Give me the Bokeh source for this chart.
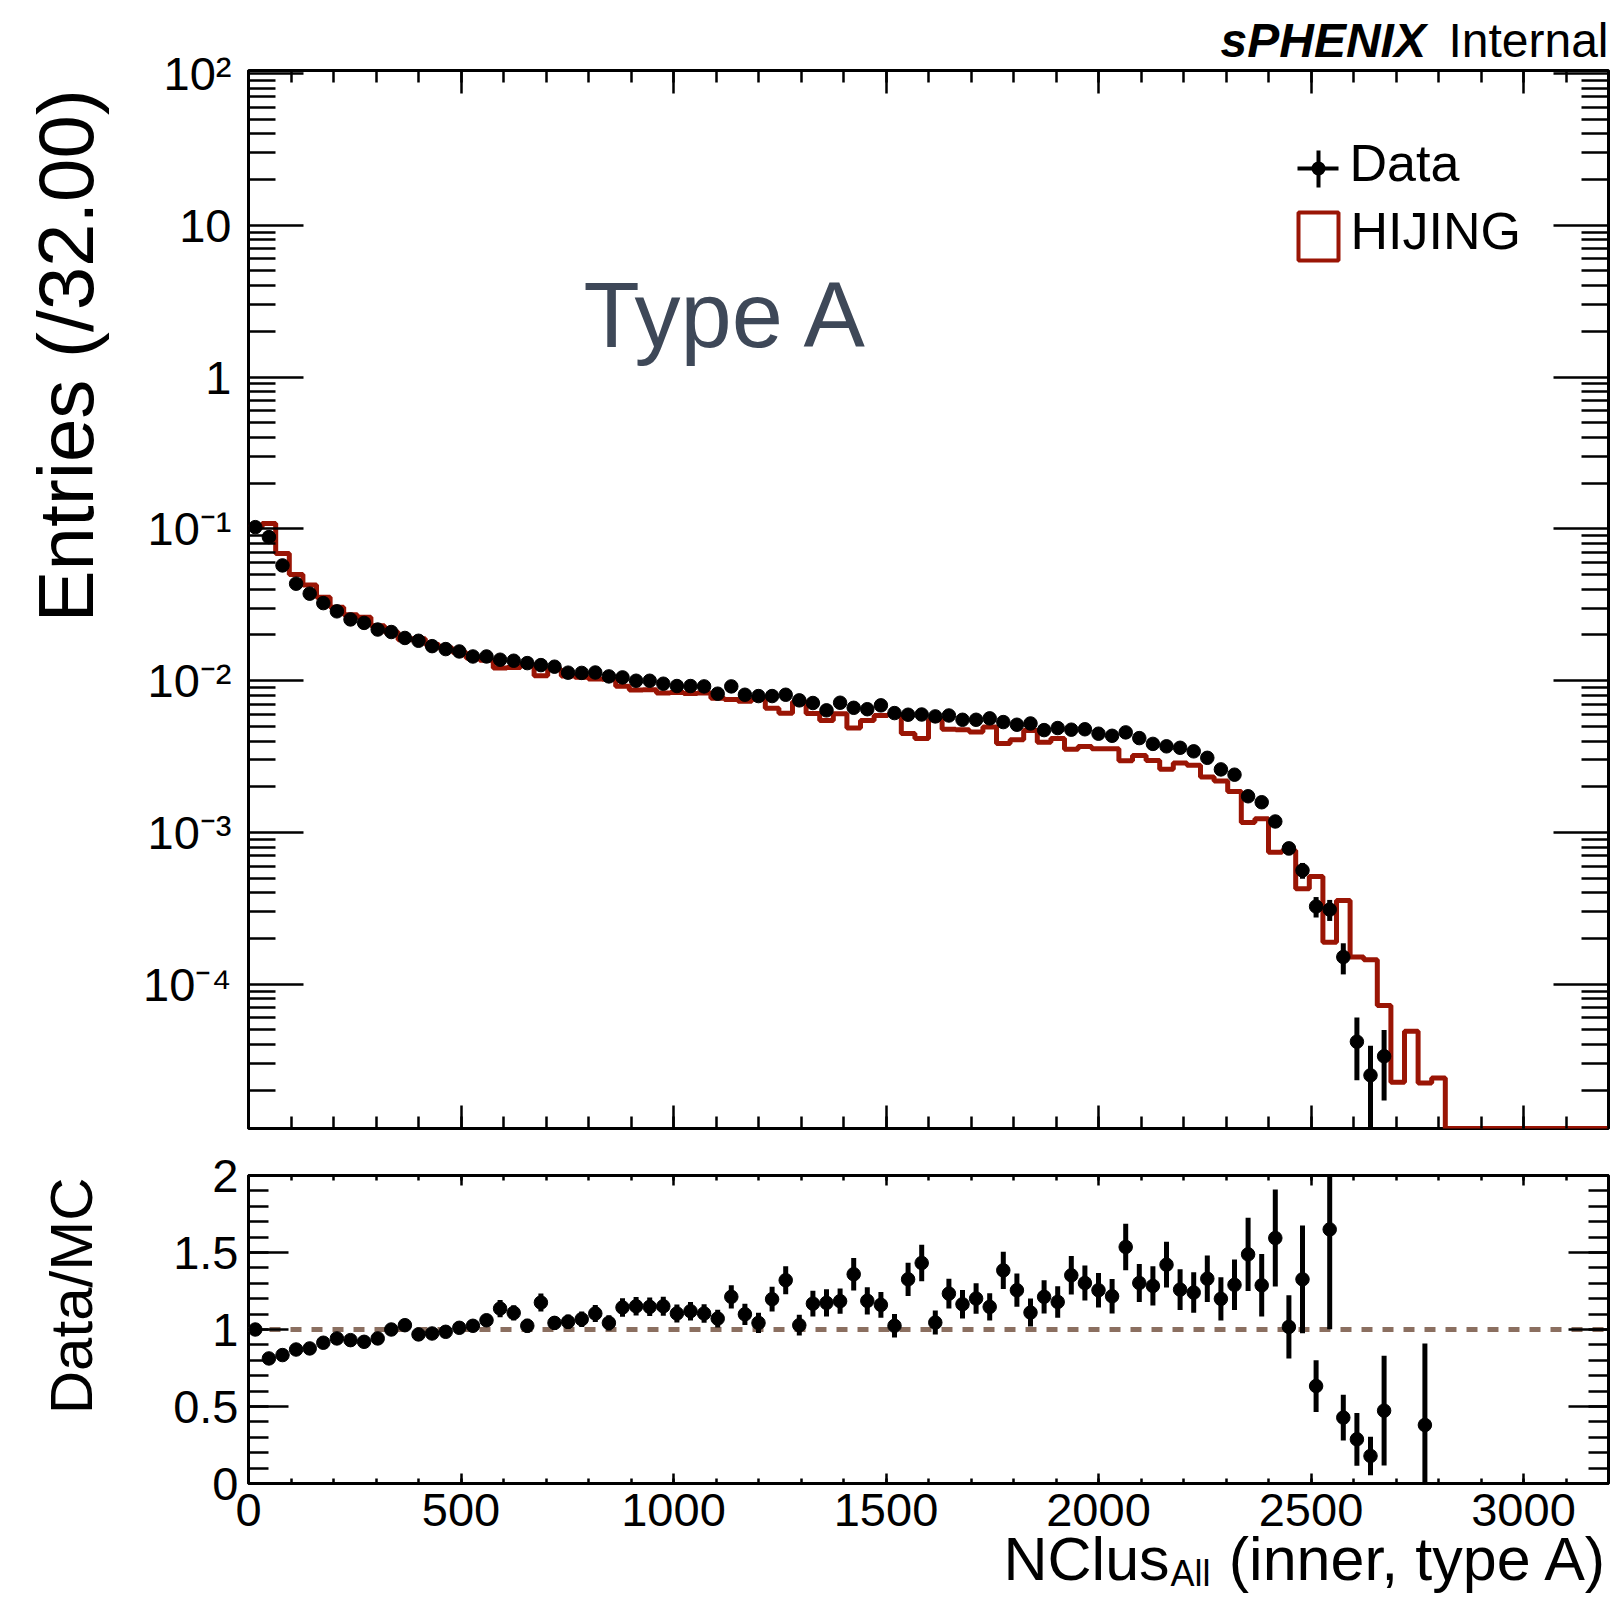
import numpy as np
from bokeh.plotting import figure
from bokeh.models import (FixedTicker, LogAxis, LinearAxis, Range1d, Label, GridBox,
                          BoxAnnotation, Span, CustomJSTickFormatter)
from bokeh.embed import file_html
from bokeh.resources import INLINE

# ---------------- binning ----------------
x_start, x_end, n_bins = 0.0, 3200.0, 100

# ---------------- data (Entries per 32-wide bin) ----------------
data_vals = [
    0.1026, 0.0882, 0.0574, 0.0435, 0.0374, 0.0324, 0.0286, 0.0253, 0.0240, 0.0217,
    0.0209, 0.0191, 0.0183, 0.01687, 0.01613, 0.01556, 0.01442, 0.01442, 0.01373, 0.01352,
    0.01304, 0.01265, 0.01235, 0.01128, 0.01124, 0.01131, 0.01066, 0.01050, 0.00998, 0.00998,
    0.00954, 0.00921, 0.00921, 0.00916, 0.00820, 0.00916, 0.00807, 0.00791, 0.00791, 0.00807,
    0.00741, 0.00712, 0.00637, 0.00715, 0.00662, 0.00648, 0.00687, 0.00611, 0.00596, 0.00598,
    0.00581, 0.00589, 0.00552, 0.00552, 0.00564, 0.00533, 0.00512, 0.00522, 0.00472, 0.00487,
    0.00475, 0.00478, 0.00447, 0.00433, 0.00456, 0.00418, 0.00383, 0.00369, 0.00361, 0.00342,
    0.00310, 0.00260, 0.00240, 0.00173, 0.00158, 0.00118, 0.000785, 0.000562, 0.000325, 0.000310,
    0.000151, 4.18e-5, 2.51e-5, 3.35e-5, 0.0, 0.0, 8.5e-6, 0.0, 0.0, 0.0,
    0.0, 0.0, 0.0, 0.0, 0.0, 0.0, 0.0, 0.0, 0.0, 0.0,
]
data_errs = [
    9.1e-4, 8.4e-4, 6.8e-4, 5.9e-4, 5.5e-4, 5.1e-4, 4.8e-4, 4.5e-4, 4.4e-4, 4.2e-4,
    4.1e-4, 3.9e-4, 3.8e-4, 3.7e-4, 3.6e-4, 3.5e-4, 3.4e-4, 3.4e-4, 3.3e-4, 3.3e-4,
    3.2e-4, 3.2e-4, 3.1e-4, 3.0e-4, 3.0e-4, 3.0e-4, 2.9e-4, 2.9e-4, 2.8e-4, 2.8e-4,
    2.8e-4, 2.7e-4, 2.7e-4, 2.7e-4, 2.6e-4, 2.7e-4, 2.5e-4, 2.5e-4, 2.5e-4, 2.5e-4,
    2.4e-4, 2.4e-4, 2.3e-4, 2.4e-4, 2.3e-4, 2.3e-4, 2.3e-4, 2.2e-4, 2.2e-4, 2.2e-4,
    2.2e-4, 2.2e-4, 2.1e-4, 2.1e-4, 2.1e-4, 2.1e-4, 2.0e-4, 2.0e-4, 1.9e-4, 2.0e-4,
    1.95e-4, 1.95e-4, 1.9e-4, 1.85e-4, 1.9e-4, 1.8e-4, 1.75e-4, 1.7e-4, 1.7e-4, 1.65e-4,
    1.6e-4, 1.45e-4, 1.4e-4, 1.18e-4, 1.12e-4, 9.7e-5, 7.9e-5, 6.7e-5, 5.0e-5, 4.9e-5,
    3.5e-5, 1.85e-5, 1.42e-5, 1.64e-5, 0.0, 0.0, 8.5e-6, 0.0, 0.0, 0.0,
    0.0, 0.0, 0.0, 0.0, 0.0, 0.0, 0.0, 0.0, 0.0, 0.0,
]
# ---------------- HIJING MC ----------------
mc_vals = [
    0.1026, 0.1086, 0.0688, 0.0500, 0.0426, 0.0354, 0.0304, 0.0272, 0.0261, 0.0230,
    0.0209, 0.0186, 0.0189, 0.01732, 0.01638, 0.01539, 0.01408, 0.01360, 0.01209, 0.01220,
    0.01273, 0.01077, 0.01184, 0.01074, 0.01053, 0.01024, 0.01022, 0.00919, 0.00867, 0.00870,
    0.00829, 0.00834, 0.00823, 0.00830, 0.00766, 0.00750, 0.00732, 0.00755, 0.00658, 0.00610,
    0.00725, 0.00608, 0.00545, 0.00606, 0.00488, 0.00546, 0.00590, 0.00596, 0.00448, 0.00416,
    0.00552, 0.00479, 0.00474, 0.00459, 0.00495, 0.00385, 0.00408, 0.00470, 0.00392, 0.00415,
    0.00353, 0.00368, 0.00356, 0.00356, 0.00296, 0.00321, 0.00298, 0.00261, 0.00287, 0.00277,
    0.00232, 0.00218, 0.00186, 0.00116, 0.00123, 0.00074, 0.00076, 0.000426, 0.000513, 0.000189,
    0.000356, 0.000151, 0.000145, 7.24e-5, 2.26e-5, 4.89e-5, 2.23e-5, 2.41e-5, 0.0, 0.0,
    0.0, 0.0, 0.0, 0.0, 0.0, 0.0, 0.0, 0.0, 0.0, 0.0,
]
# ---------------- Data/MC ratio ----------------
ratio_vals = [
    1.000, 0.812, 0.834, 0.870, 0.877, 0.914, 0.942, 0.931, 0.920, 0.942,
    1.000, 1.028, 0.968, 0.974, 0.985, 1.011, 1.024, 1.060, 1.136, 1.108,
    1.024, 1.175, 1.043, 1.050, 1.067, 1.104, 1.043, 1.143, 1.151, 1.147,
    1.151, 1.104, 1.119, 1.104, 1.071, 1.212, 1.099, 1.043, 1.197, 1.320,
    1.028, 1.168, 1.173, 1.184, 1.359, 1.186, 1.160, 1.024, 1.326, 1.432,
    1.045, 1.233, 1.164, 1.201, 1.147, 1.384, 1.255, 1.110, 1.212, 1.179,
    1.352, 1.302, 1.255, 1.216, 1.536, 1.302, 1.283, 1.421, 1.259, 1.240,
    1.330, 1.199, 1.290, 1.488, 1.287, 1.594, 1.017, 1.326, 0.633, 1.650,
    0.428, 0.287, 0.179, 0.473, None, None, 0.380, None, None, None,
    None, None, None, None, None, None, None, None, None, None,
]
ratio_errs = [
    0.010, 0.012, 0.014, 0.016, 0.018, 0.020, 0.022, 0.023, 0.024, 0.026,
    0.028, 0.029, 0.030, 0.031, 0.032, 0.034, 0.035, 0.040, 0.056, 0.050,
    0.045, 0.058, 0.045, 0.047, 0.050, 0.055, 0.050, 0.060, 0.060, 0.060,
    0.062, 0.058, 0.060, 0.060, 0.058, 0.076, 0.069, 0.065, 0.080, 0.091,
    0.067, 0.084, 0.089, 0.082, 0.106, 0.089, 0.084, 0.076, 0.108, 0.119,
    0.078, 0.097, 0.093, 0.099, 0.089, 0.121, 0.108, 0.091, 0.108, 0.102,
    0.125, 0.114, 0.112, 0.112, 0.151, 0.123, 0.127, 0.149, 0.132, 0.132,
    0.151, 0.140, 0.164, 0.238, 0.203, 0.315, 0.205, 0.350, 0.168, 0.648,
    0.149, 0.171, 0.125, 0.356, None, None, 0.529, None, None, None,
    None, None, None, None, None, None, None, None, None, None,
]

x_major_ticks = [0, 500, 1000, 1500, 2000, 2500, 3000]
y_major_ticks = [1e-4, 1e-3, 1e-2, 1e-1, 1.0, 10.0, 100.0]
ratio_major_ticks = [0.0, 0.5, 1.0, 1.5, 2.0]
legend_labels = ["Data", "HIJING"]

FONT = "Liberation Sans"
RED = "#9a1505"
y_min, y_max = 1.12e-5, 104.6
PAGE_W, PAGE_H = 1619, 1598

edges = np.linspace(x_start, x_end, n_bins + 1)
centers = 0.5 * (edges[:-1] + edges[1:])
data = np.array(data_vals, dtype=float)
derr = np.array(data_errs, dtype=float)
mc = np.array(mc_vals, dtype=float)
ratio = np.array(ratio_vals, dtype=float)
rerr = np.array(ratio_errs, dtype=float)

x_minor = list(np.arange(x_start, x_end + 1, 100.0))
y_minor = [m * 10.0 ** k for k in range(-5, 3) for m in range(2, 10)]
r_minor = list(np.round(np.arange(0.0, 2.01, 0.1), 2))

log_fmt = CustomJSTickFormatter(code="""
const e = Math.round(Math.log10(tick));
const sup = {"-5":"\u207b\u2075","-4":"\u207b\u2074","-3":"\u207b\u00b3","-2":"\u207b\u00b2","-1":"\u207b\u00b9","2":"\u00b2"};
if (e == 0) return "1";
if (e == 1) return "10";
return "10" + sup[String(e)];
""")
plain_fmt = CustomJSTickFormatter(code="return String(tick);")


def style_axis(ax, tick_in, minor_in, show_labels, standoff=0, fmt=None):
    ax.axis_line_color = None
    ax.major_tick_in = tick_in
    ax.major_tick_out = 0
    ax.minor_tick_in = minor_in
    ax.minor_tick_out = 0
    ax.major_tick_line_color = "black"
    ax.major_tick_line_width = 2.5
    ax.minor_tick_line_color = "black"
    ax.minor_tick_line_width = 2.5
    ax.major_label_standoff = standoff
    ax.major_label_text_font = FONT
    ax.major_label_text_color = "black"
    if show_labels:
        ax.major_label_text_font_size = "47px"
        if fmt is not None:
            ax.formatter = fmt
    else:
        ax.major_label_text_font_size = "2px"
        ax.formatter = CustomJSTickFormatter(code="return '';")


# ================= main panel =================
p1 = figure(frame_width=1360, frame_height=1058,
            x_range=Range1d(x_start, x_end), y_range=Range1d(y_min, y_max),
            y_axis_type="log", output_backend="svg", toolbar_location=None,
            min_border_left=248, min_border_right=11, min_border_top=70, min_border_bottom=22)
p1.xgrid.visible = False
p1.ygrid.visible = False
p1.outline_line_color = "black"
p1.outline_line_width = 3
p1.background_fill_color = "white"
p1.border_fill_color = "white"

xt = FixedTicker(ticks=x_major_ticks, minor_ticks=x_minor)
yt = FixedTicker(ticks=y_major_ticks, minor_ticks=y_minor)
p1.xaxis.ticker = xt
p1.yaxis.ticker = yt
style_axis(p1.xaxis[0], 23, 12, False)
style_axis(p1.yaxis[0], 55, 27, True, standoff=17, fmt=log_fmt)
top1 = LinearAxis(ticker=xt)
style_axis(top1, 23, 12, False)
p1.add_layout(top1, "above")
right1 = LogAxis(ticker=yt)
style_axis(right1, 55, 27, False)
p1.add_layout(right1, "right")

# HIJING histogram as a step line
mc_draw = np.where(mc > 0, mc, y_min)
step_x = np.repeat(edges, 2)[1:-1]
step_y = np.repeat(mc_draw, 2)
p1.line(step_x, step_y, line_color=RED, line_width=5)

# data points
vis = data > y_min
dx = centers[vis]
dy = data[vis]
de = derr[vis]
p1.segment(x0=dx, y0=np.maximum(dy - de, 1e-9), x1=dx, y1=dy + de,
           line_color="black", line_width=5)
p1.scatter(dx, dy, size=13.5, marker="circle", fill_color="black", line_color="black")

# legend symbols (frame-relative screen units)
scr = dict(left_units="screen", right_units="screen", top_units="screen", bottom_units="screen")
p1.add_layout(BoxAnnotation(left=1049, right=1090, bottom=958, top=962, fill_color="black",
                            fill_alpha=1.0, line_color=None, **scr))
p1.add_layout(BoxAnnotation(left=1068, right=1072, bottom=941, top=978, fill_color="black",
                            fill_alpha=1.0, line_color=None, **scr))
p1.add_layout(BoxAnnotation(left=1063, right=1077, bottom=953, top=967,
                            fill_color="black", fill_alpha=1.0, line_color=None,
                            border_radius=7, **scr))
p1.add_layout(BoxAnnotation(left=1050, right=1090, bottom=868, top=916, fill_color=None,
                            fill_alpha=0.0, line_color=RED, line_alpha=1.0, line_width=4, **scr))

# ================= ratio panel =================
p2 = figure(frame_width=1360, frame_height=308,
            x_range=Range1d(x_start, x_end), y_range=Range1d(0.0, 2.0),
            output_backend="svg", toolbar_location=None,
            min_border_left=248, min_border_right=11, min_border_top=25, min_border_bottom=115)
p2.xgrid.visible = False
p2.ygrid.visible = False
p2.outline_line_color = "black"
p2.outline_line_width = 3
p2.background_fill_color = "white"
p2.border_fill_color = "white"

xt2 = FixedTicker(ticks=x_major_ticks, minor_ticks=x_minor)
rt = FixedTicker(ticks=ratio_major_ticks, minor_ticks=r_minor)
p2.xaxis.ticker = xt2
p2.yaxis.ticker = rt
style_axis(p2.xaxis[0], 10, 5, True, standoff=10, fmt=plain_fmt)
style_axis(p2.yaxis[0], 40, 20, True, standoff=10, fmt=plain_fmt)
top2 = LinearAxis(ticker=xt2)
style_axis(top2, 10, 5, False)
p2.add_layout(top2, "above")
right2 = LinearAxis(ticker=rt)
style_axis(right2, 40, 20, False)
p2.add_layout(right2, "right")

p2.add_layout(Span(location=1.0, dimension="width", line_color="#8b6f60", line_width=5,
                   line_dash="11 10", level="underlay"))

ok = ~np.isnan(ratio)
rx = centers[ok]
ry = ratio[ok]
re = rerr[ok]
p2.segment(x0=rx, y0=ry - re, x1=rx, y1=ry + re, line_color="black", line_width=5)
p2.scatter(rx, ry, size=13.5, marker="circle", fill_color="black", line_color="black")

# ================= transparent text layer covering the whole page =================
ov = figure(width=PAGE_W, height=PAGE_H, x_range=Range1d(0, PAGE_W), y_range=Range1d(0, PAGE_H),
            x_axis_location=None, y_axis_location=None, toolbar_location=None,
            output_backend="svg", min_border=0)
if "frame_align" in ov.properties():
    ov.frame_align = False
    p1.frame_align = False
    p2.frame_align = False
ov.xgrid.visible = False
ov.ygrid.visible = False
ov.outline_line_color = None
ov.background_fill_color = None
ov.border_fill_color = None


def txt(x, y_base, text, size, align="left", angle=0.0, style="normal", color="black"):
    # y_base: baseline position measured from the page top; label anchored at text middle
    if angle == 0.0:
        ax_, ay_ = x, PAGE_H - y_base + 0.37 * size
    else:
        ax_, ay_ = x - 0.37 * size, PAGE_H - y_base
    ov.add_layout(Label(x=ax_, y=ay_, x_units="screen", y_units="screen", text=text,
                        angle=angle, text_align=align, text_baseline="middle",
                        text_font=FONT, text_font_size=f"{size}px", text_font_style=style,
                        text_color=color))


txt(1220, 58, "sPHENIX", 48, style="bold italic")
txt(1608, 58, "Internal", 48, align="right")
txt(583, 349, "Type A", 92, color="#3e4858")
txt(1349, 182, legend_labels[0], 52)
txt(1350, 250, legend_labels[1], 52)
# rotated y titles: x is the baseline position, y_base is the top end of the text
txt(94.6, 67, "Entries  (/32.00)", 78, align="right", angle=np.pi / 2)
txt(93, 1177, "Data/MC", 60, align="right", angle=np.pi / 2)
# x title with subscript
txt(1003, 1581, "NClus", 61)
txt(1170, 1586, "All", 36)
txt(1608, 1581, "(inner, type A)", 61, align="right")

layout = GridBox(children=[(p1, 0, 0), (p2, 1, 0), (ov, 0, 0, 2, 1)])
open("out.html", "w", encoding="utf-8").write(file_html(layout, INLINE))
